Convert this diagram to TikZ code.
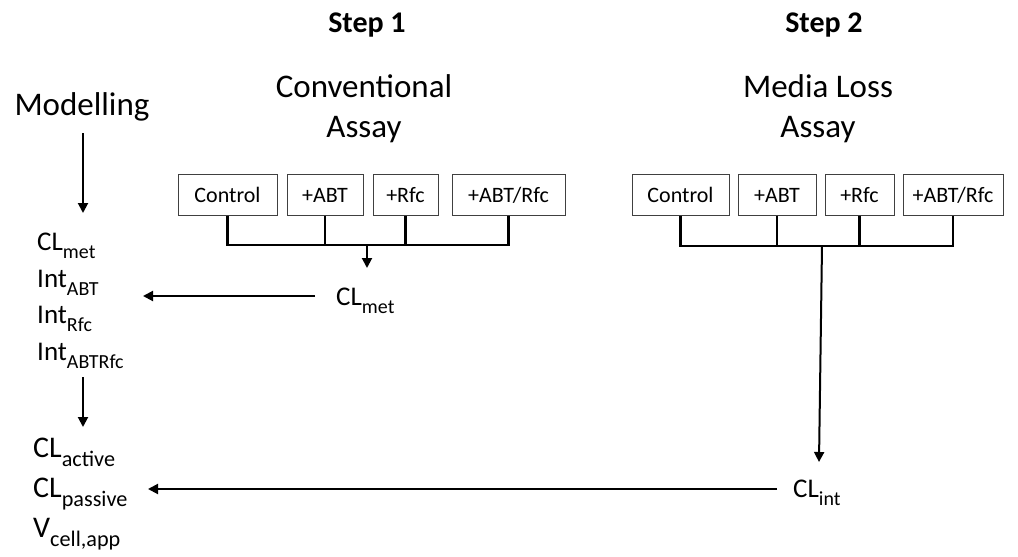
\documentclass[tikz,border=0pt]{standalone}
\usepackage{fontspec}
\setmainfont{Carlito}
\usetikzlibrary{arrows.meta}

\newcommand{\lowsub}[1]{\raisebox{-0.32em}{\scalebox{0.74}{#1}}}

\tikzset{
	assaybox/.style={draw=black!75, line width=0.8pt, minimum height=41pt, inner xsep=0pt,
		text height=16pt, text depth=2pt, font=\fontsize{22}{22}\selectfont},
	heading/.style={anchor=base, inner sep=0pt, font=\fontsize{33}{33}\selectfont},
	stepname/.style={anchor=base, inner sep=0pt, font=\fontsize{30}{30}\selectfont\bfseries},
	result/.style={anchor=base west, inner sep=0pt, font=\fontsize{27}{27}\selectfont},
	param/.style={anchor=base west, inner sep=0pt, font=\fontsize{27}{27}\selectfont},
	bigparam/.style={anchor=base west, inner sep=0pt, font=\fontsize{30}{30}\selectfont},
	link/.style={line width=2.6pt},
	flow/.style={line width=2pt, -{Triangle[length=10pt, width=10pt]}},
}

\begin{document}
\begin{tikzpicture}[x=1pt, y=-1pt]
	\useasboundingbox (0,0) rectangle (1018,557);
	% headings
	\node[stepname] (stepA) at (367,32) {Step 1};
	\node[stepname] (stepB) at (824,32) {Step 2};
	\node[heading] (convA) at (364,97) {Conventional};
	\node[heading] (convB) at (364,137) {Assay};
	\node[heading] (mediaA) at (818,97) {Media Loss};
	\node[heading] (mediaB) at (818,137) {Assay};
	\node[heading] (modelling) at (82,115) {Modelling};
	% conventional assay conditions
	\foreach \n/\l/\r/\t in {cA/178/277/Control, cB/287/363/+ABT, cC/373/438/+Rfc, cD/452/565/{+ABT/Rfc}} {
		\node[assaybox, minimum width=\r-\l] (\n) at ({(\l+\r)/2},195) {\t};
	}
	% media loss assay conditions
	\foreach \n/\l/\r/\t in {mA/632/729/Control, mB/738/816/+ABT, mC/825/894/+Rfc, mD/903/1003/{+ABT/Rfc}} {
		\node[assaybox, minimum width=\r-\l] (\n) at ({(\l+\r)/2},195) {\t};
	}
	% results
	\node[result] (clmet) at (336,305) {CL\lowsub{met}};
	\node[result] (clint) at (793,497) {CL\lowsub{int}};
	% model parameters
	\node[param] (pmet) at (37,250) {CL\lowsub{met}};
	\node[param] (pabt) at (37,287) {Int\lowsub{ABT}};
	\node[param] (prfc) at (37,323) {Int\lowsub{Rfc}};
	\node[param] (pboth) at (37,360) {Int\lowsub{ABTRfc}};
	\node[bigparam] (pact) at (33,457) {CL\lowsub{active}};
	\node[bigparam] (ppas) at (33,497) {CL\lowsub{passive}};
	\node[bigparam] (pvol) at (33,537) {V\lowsub{cell,app}};
	% brackets
	\coordinate (cjoin) at (367,245);
	\coordinate (mjoin) at (822,246);
	\draw[link] (cA.south) -- (cA.south |- cjoin) -- (cD.south |- cjoin) -- (cD.south);
	\foreach \n in {cB,cC} \draw[link] (\n.south) -- (\n.south |- cjoin);
	\draw[link] (mA.south) -- (mA.south |- mjoin) -- (mD.south |- mjoin) -- (mD.south);
	\foreach \n in {mB,mC} \draw[link] (\n.south) -- (\n.south |- mjoin);
	% flows
	\coordinate (cdown) at (367,268);
	\coordinate (mdown) at (819,462);
	\coordinate (metfrom) at (315,296);
	\coordinate (metto) at (143,296);
	\coordinate (intfrom) at (777,489);
	\coordinate (intto) at (148,489);
	\coordinate (modA) at (83,133);
	\coordinate (modB) at (83,213);
	\coordinate (modC) at (83,377);
	\coordinate (modD) at (83,427);
	\draw[flow] (cjoin) -- (cdown);
	\draw[flow] (mjoin) -- (mdown);
	\draw[flow] (metfrom) -- (metto);
	\draw[flow] (intfrom) -- (intto);
	\draw[flow] (modA) -- (modB);
	\draw[flow] (modC) -- (modD);
\end{tikzpicture}
\end{document}
